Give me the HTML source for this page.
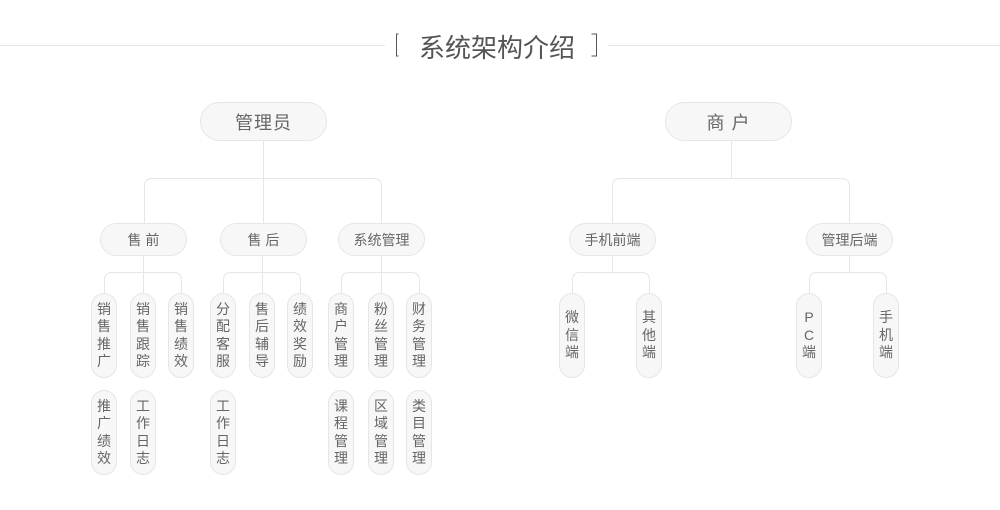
<!DOCTYPE html>
<html><head><meta charset="utf-8"><style>
html,body{margin:0;padding:0;background:#fff;}
body{width:1000px;height:510px;position:relative;overflow:hidden;font-family:"Liberation Sans","Noto Sans CJK SC",sans-serif;color:#666;}
.n{position:absolute;box-sizing:border-box;background:#f7f7f8;border:1px solid #e6e6e6;display:flex;align-items:center;justify-content:center;}
.b{height:39px;width:127px;border-radius:20px;font-size:18px;top:102px;letter-spacing:1px;}
.m{height:33px;width:87px;border-radius:17px;font-size:14px;top:223px;}
.p{width:26px;height:85px;border-radius:13px;font-size:14px;flex-direction:column;line-height:17.5px;}
.t{position:absolute;top:28px;left:-3px;width:1000px;text-align:center;font-size:26px;color:#555;}
</style></head><body>
<svg width="1000" height="510" style="position:absolute;left:0;top:0" fill="none" stroke="#e6e6e6" stroke-width="1">
<line x1="0" y1="45.5" x2="385" y2="45.5"/>
<line x1="608" y1="45.5" x2="1000" y2="45.5"/>
<path d="M398.5 34 H396.5 V56 H398.5" stroke="#555"/>
<path d="M591.5 34 H596.5 V56 H591.5" stroke="#555"/>
<path d="M263.5 141 V223"/>
<path d="M144.5 223 V186 Q144.5 178.5 152 178.5 H373 Q381.5 178.5 381.5 186 V223"/>
<path d="M731.5 141 V178.5"/>
<path d="M612.5 223 V186 Q612.5 178.5 620 178.5 H841 Q849.5 178.5 849.5 186 V223"/>
<path d="M143.5 256 V293"/><path d="M104.5 293 V280 Q104.5 272.5 112 272.5 H173 Q181.5 272.5 181.5 280 V293"/>
<path d="M262.5 256 V293"/><path d="M223.5 293 V280 Q223.5 272.5 231 272.5 H292 Q300.5 272.5 300.5 280 V293"/>
<path d="M381.5 256 V293"/><path d="M341.5 293 V280 Q341.5 272.5 349 272.5 H411 Q419.5 272.5 419.5 280 V293"/>
<path d="M612.5 256 V272.5"/><path d="M572.5 293 V280 Q572.5 272.5 580 272.5 H641 Q649.5 272.5 649.5 280 V293"/>
<path d="M849.5 256 V272.5"/><path d="M809.5 293 V280 Q809.5 272.5 817 272.5 H878 Q886.5 272.5 886.5 280 V293"/>
</svg>
<div class="t">系统架构介绍</div>
<div class="n b" style="left:200px">管理员</div>
<div class="n b" style="left:665px">商 户</div>
<div class="n m" style="left:100px">售 前</div>
<div class="n m" style="left:220px">售 后</div>
<div class="n m" style="left:338px">系统管理</div>
<div class="n m" style="left:569px">手机前端</div>
<div class="n m" style="left:806px">管理后端</div>

<div class="n p" style="left:91px;top:293px"><span>销</span><span>售</span><span>推</span><span>广</span></div>
<div class="n p" style="left:130px;top:293px"><span>销</span><span>售</span><span>跟</span><span>踪</span></div>
<div class="n p" style="left:168px;top:293px"><span>销</span><span>售</span><span>绩</span><span>效</span></div>
<div class="n p" style="left:210px;top:293px"><span>分</span><span>配</span><span>客</span><span>服</span></div>
<div class="n p" style="left:249px;top:293px"><span>售</span><span>后</span><span>辅</span><span>导</span></div>
<div class="n p" style="left:287px;top:293px"><span>绩</span><span>效</span><span>奖</span><span>励</span></div>
<div class="n p" style="left:328px;top:293px"><span>商</span><span>户</span><span>管</span><span>理</span></div>
<div class="n p" style="left:368px;top:293px"><span>粉</span><span>丝</span><span>管</span><span>理</span></div>
<div class="n p" style="left:406px;top:293px"><span>财</span><span>务</span><span>管</span><span>理</span></div>

<div class="n p" style="left:91px;top:390px"><span>推</span><span>广</span><span>绩</span><span>效</span></div>
<div class="n p" style="left:130px;top:390px"><span>工</span><span>作</span><span>日</span><span>志</span></div>
<div class="n p" style="left:210px;top:390px"><span>工</span><span>作</span><span>日</span><span>志</span></div>
<div class="n p" style="left:328px;top:390px"><span>课</span><span>程</span><span>管</span><span>理</span></div>
<div class="n p" style="left:368px;top:390px"><span>区</span><span>域</span><span>管</span><span>理</span></div>
<div class="n p" style="left:406px;top:390px"><span>类</span><span>目</span><span>管</span><span>理</span></div>

<div class="n p" style="left:559px;top:293px"><span>微</span><span>信</span><span>端</span></div>
<div class="n p" style="left:636px;top:293px"><span>其</span><span>他</span><span>端</span></div>
<div class="n p" style="left:796px;top:293px"><span>P</span><span>C</span><span>端</span></div>
<div class="n p" style="left:873px;top:293px"><span>手</span><span>机</span><span>端</span></div>
</body></html>
